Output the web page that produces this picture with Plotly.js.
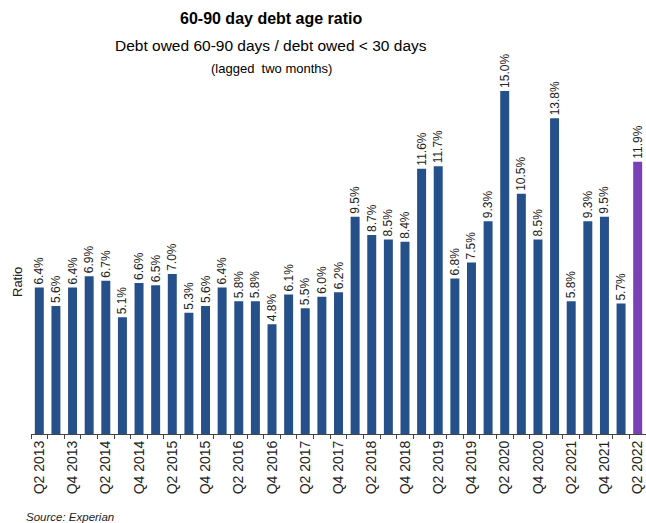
<!DOCTYPE html>
<html>
<head>
<meta charset="utf-8">
<script src="https://cdn.plot.ly/plotly-3.0.1.min.js"></script>
<style>html,body{margin:0;padding:0;background:#fff;}#chart{width:646px;height:523px;}</style>
</head>
<body>
<div id="chart"></div>
<script>
const categories = ["Q2 2013","Q3 2013","Q4 2013","Q1 2014","Q2 2014","Q3 2014","Q4 2014","Q1 2015","Q2 2015","Q3 2015","Q4 2015","Q1 2016","Q2 2016","Q3 2016","Q4 2016","Q1 2017","Q2 2017","Q3 2017","Q4 2017","Q1 2018","Q2 2018","Q3 2018","Q4 2018","Q1 2019","Q2 2019","Q3 2019","Q4 2019","Q1 2020","Q2 2020","Q3 2020","Q4 2020","Q1 2021","Q2 2021","Q3 2021","Q4 2021","Q1 2022","Q2 2022"];
const values = [6.4,5.6,6.4,6.9,6.7,5.1,6.6,6.5,7.0,5.3,5.6,6.4,5.8,5.8,4.8,6.1,5.5,6.0,6.2,9.5,8.7,8.5,8.4,11.6,11.7,6.8,7.5,9.3,15.0,10.5,8.5,13.8,5.8,9.3,9.5,5.7,11.9];
const tickLabels = ["Q2 2013","","Q4 2013","","Q2 2014","","Q4 2014","","Q2 2015","","Q4 2015","","Q2 2016","","Q4 2016","","Q2 2017","","Q4 2017","","Q2 2018","","Q4 2018","","Q2 2019","","Q4 2019","","Q2 2020","","Q4 2020","","Q2 2021","","Q4 2021","","Q2 2022"];
const highlight = "Q2 2022";

const colors = categories.map(c => c === highlight ? "#7b3fb6" : "#25508a");
const labels = values.map(v => v.toFixed(1) + "%");

const sans = "'Liberation Sans', Arial, sans-serif";

const trace = {
  type: "bar",
  x: categories,
  y: values,
  marker: {color: colors, line: {width: 0}},
  text: labels,
  textposition: "outside",
  textangle: -90,
  constraintext: "none",
  cliponaxis: false,
  textfont: {family: sans, size: 12, color: "#222"},
  hoverinfo: "none"
};

const cx = (271 - 31) / 615;

const layout = {
  width: 646, height: 523,
  margin: {l: 31, r: 0, t: 68, b: 89},
  paper_bgcolor: "#fff", plot_bgcolor: "#fff",
  showlegend: false,
  bargap: 0.46,
  xaxis: {
    type: "category",
    range: [-0.5, 36.5],
    tickvals: categories,
    ticktext: tickLabels,
    tickson: "boundaries",
    ticks: "outside", ticklen: 4, tickcolor: "#444", tickwidth: 1,
    tickangle: -90,
    tickfont: {family: sans, size: 14, color: "#222"},
    showline: true, linecolor: "#444", linewidth: 1,
    showgrid: false, zeroline: false, fixedrange: true
  },
  yaxis: {
    range: [0, 16],
    showticklabels: false, ticks: "",
    showgrid: false, zeroline: false, showline: false, fixedrange: true
  },
  annotations: [
    {text: "<b>60-90 day debt age ratio</b>", xref: "paper", yref: "paper", x: cx, y: (434-19)/366, xanchor: "center", yanchor: "middle", showarrow: false, font: {family: sans, size: 16, color: "#000"}},
    {text: "Debt owed 60-90 days / debt owed < 30 days", xref: "paper", yref: "paper", x: cx, y: (434-45)/366, xanchor: "center", yanchor: "middle", showarrow: false, font: {family: sans, size: 15.5, color: "#000"}},
    {text: "(lagged  two months)", xref: "paper", yref: "paper", x: cx, y: (434-68)/366, xanchor: "center", yanchor: "middle", showarrow: false, font: {family: sans, size: 13, color: "#000"}},
    {text: "Ratio", xref: "paper", yref: "paper", x: (17-31)/615, y: (434-282)/366, xanchor: "center", yanchor: "middle", textangle: -90, showarrow: false, font: {family: sans, size: 13, color: "#222"}},
    {text: "<i>Source: Experian</i>", xref: "paper", yref: "paper", x: (24-31)/615, y: (434-517)/366, xanchor: "left", yanchor: "middle", showarrow: false, font: {family: sans, size: 11.5, color: "#222"}}
  ]
};

Plotly.newPlot("chart", [trace], layout, {displayModeBar: false, staticPlot: true});
</script>
</body>
</html>
